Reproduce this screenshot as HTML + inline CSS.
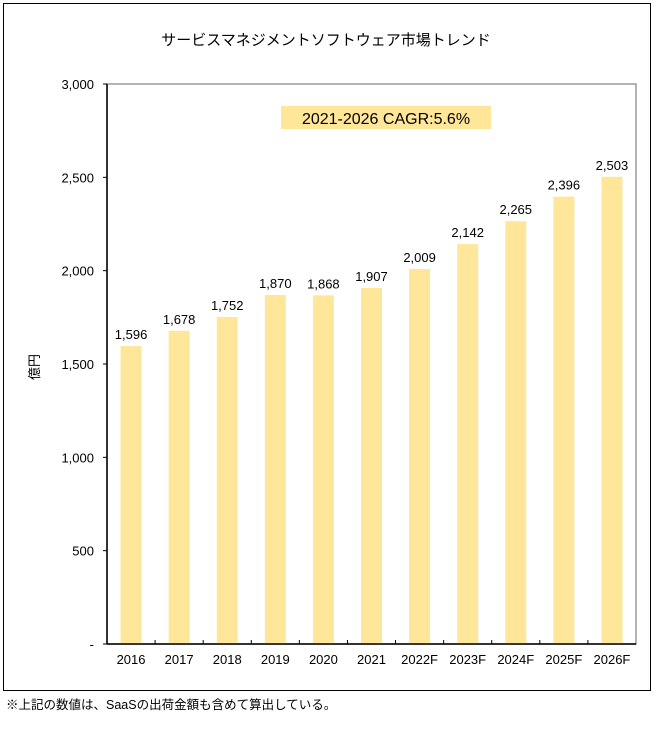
<!DOCTYPE html>
<html><head><meta charset="utf-8"><style>
body{margin:0;background:#fff;font-family:"Liberation Sans","Noto Sans CJK JP",sans-serif}
svg text{font-family:"Liberation Sans","Noto Sans CJK JP",sans-serif}
</style></head><body>
<svg id="c" width="656" height="724" xmlns="http://www.w3.org/2000/svg">
<rect x="3.5" y="3.5" width="647" height="687" fill="#fff" stroke="#000" stroke-width="1"/>
<text x="326" y="45" font-size="15" text-anchor="middle">サービスマネジメントソフトウェア市場トレンド</text>
<rect x="281" y="106" width="210" height="23" fill="#FFE699"/>
<text x="386" y="124" font-size="16" text-anchor="middle">2021-2026 CAGR:5.6%</text>
<text transform="translate(39,367) rotate(-90)" font-size="13" text-anchor="middle">億円</text>
<text x="6" y="709" font-size="12.5">※上記の数値は、SaaSの出荷金額も含めて算出している。</text>
<g id="plot"></g>
</svg>
<script>
const categories=["2016","2017","2018","2019","2020","2021","2022F","2023F","2024F","2025F","2026F"];
const values=[1596,1678,1752,1870,1868,1907,2009,2142,2265,2396,2503];
const valueLabels=["1,596","1,678","1,752","1,870","1,868","1,907","2,009","2,142","2,265","2,396","2,503"];
const yTicks=[0,500,1000,1500,2000,2500,3000];
const yTickLabels=["-","500","1,000","1,500","2,000","2,500","3,000"];
const NS="http://www.w3.org/2000/svg";
const L=107,R=636,T=84,B=644,yMax=3000;
const y=v=>B-(v/yMax)*(B-T);
const step=(R-L)/categories.length;
const x=i=>L+step*(i+0.5);
const g=document.getElementById('plot');
function mk(t,a){const e=document.createElementNS(NS,t);for(const k in a)e.setAttribute(k,a[k]);g.appendChild(e);return e;}
let f=mk('rect',{x:L,y:T,width:R-L,height:B-T,fill:'none',stroke:'#999','stroke-width':1.5});


categories.forEach((c,i)=>{
  const bw=21;
  const r=mk('rect',{x:x(i)-bw/2,y:y(values[i]),width:bw,height:B-y(values[i]),fill:'#FFE699'});
  
  
  const t=mk('text',{x:x(i),y:y(values[i])-7,'font-size':13,'text-anchor':'middle'});
  t.textContent=valueLabels[i];
  
  
  const xl=mk('text',{x:x(i),y:B+20,'font-size':13,'text-anchor':'middle'});
  xl.textContent=c;
  
  
  if(i>0){const tk=mk('line',{x1:L+step*i,x2:L+step*i,y1:B-4,y2:B,stroke:'#000'});
  
  }
});
yTicks.forEach((v,i)=>{
  const tk=mk('line',{x1:L-4,x2:L,y1:y(v),y2:y(v),stroke:'#000'});
  
  
  const t=mk('text',{x:L-13,y:y(v)+5,'font-size':13,'text-anchor':'end'});
  t.textContent=yTickLabels[i];
  
  
});
let ax=mk('line',{x1:L,x2:L,y1:T,y2:B,stroke:'#000','stroke-width':1.5});


let bx=mk('line',{x1:L,x2:R,y1:B,y2:B,stroke:'#000','stroke-width':1.5});


</script>
</body></html>
